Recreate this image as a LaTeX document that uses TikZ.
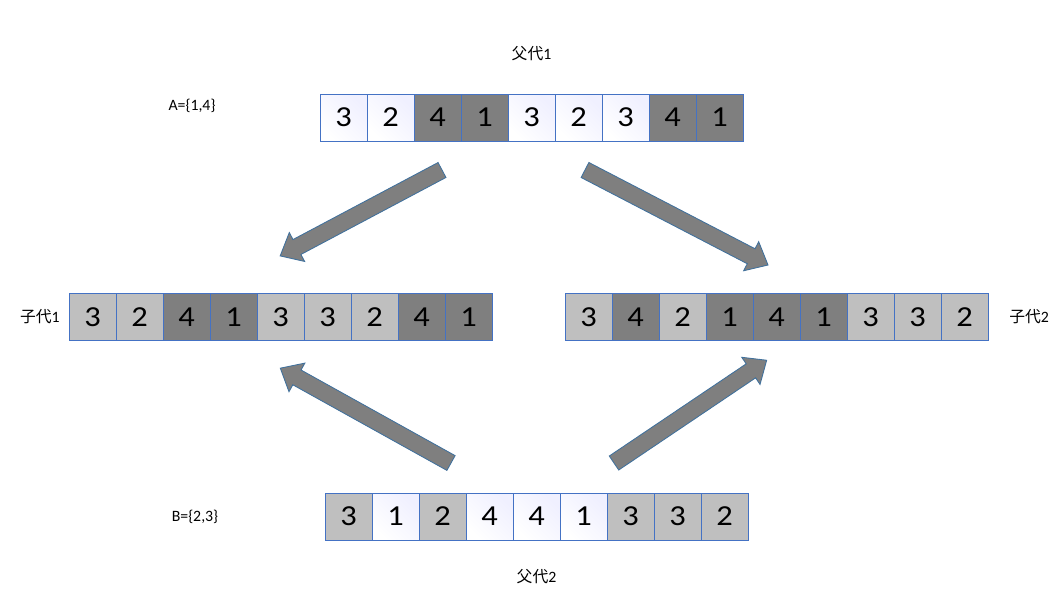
\documentclass[tikz,border=0pt]{standalone}
\usepackage{fontspec}
\setmainfont{Carlito}
\newfontfamily\cjk{Noto Sans CJK SC}
\newfontfamily\cellfont[FakeStretch=1.12]{Carlito}
\usetikzlibrary{positioning, calc}

\definecolor{cellline}{HTML}{4472C4}
\definecolor{lightcell}{HTML}{BFBFBF}
\definecolor{darkcell}{HTML}{7F7F7F}
\definecolor{arrowline}{HTML}{41719C}

\begin{document}
\begin{tikzpicture}[
    x=0.02cm, y=-0.02cm,
    cell/.style={rectangle, draw=cellline, line width=0.5pt, minimum width=0.94cm,
                 minimum height=0.94cm, inner sep=0pt, outer sep=0pt,
                 font=\cellfont\fontsize{16.5}{16.5}\selectfont},
    wcell/.style={left color=blue!6!white, right color=white, shading angle=-45},
    lcell/.style={fill=lightcell},
    dcell/.style={fill=darkcell},
    lbl/.style={inner sep=0pt, font=\fontsize{9}{10}\selectfont},
    blockarr/.style={draw=arrowline, fill=darkcell, line width=0.5pt, to path={
        let \p1=($(\tikztotarget)-(\tikztostart)$), \n1={atan2(\y1,\x1)},
            \n2={veclen(\x1,\y1)} in
        [shift={(\tikztostart)}, rotate=\n1]
        (0pt,-4.8pt) -- ({\n2-10.8pt},-4.8pt) -- ({\n2-10.8pt},-9.3pt) -- (\n2,0pt)
        -- ({\n2-10.8pt},9.3pt) -- ({\n2-10.8pt},4.8pt) -- (0pt,4.8pt) -- cycle}}
  ]
  \useasboundingbox (0,0) rectangle (1053,605);

  % parent 1
  \foreach \v/\s [count=\i from 0] in {3/wcell,2/wcell,4/dcell,1/dcell,3/wcell,2/wcell,3/wcell,4/dcell,1/dcell}
    \node[cell, \s] (pa\i) at (343.5+47*\i,117.5) {\v};
  % child 1
  \foreach \v/\s [count=\i from 0] in {3/lcell,2/lcell,4/dcell,1/dcell,3/lcell,3/lcell,2/lcell,4/dcell,1/dcell}
    \node[cell, \s] (ca\i) at (92.5+47*\i,317) {\v};
  % child 2
  \foreach \v/\s [count=\i from 0] in {3/lcell,4/dcell,2/lcell,1/dcell,4/dcell,1/dcell,3/lcell,3/lcell,2/lcell}
    \node[cell, \s] (cb\i) at (588.5+47*\i,317) {\v};
  % parent 2
  \foreach \v/\s [count=\i from 0] in {3/lcell,1/wcell,2/lcell,4/wcell,4/wcell,1/wcell,3/lcell,3/lcell,2/lcell}
    \node[cell, \s] (pb\i) at (348.5+47*\i,516.5) {\v};

  % labels
  \node[lbl, above=0.66cm of pa4] (pa-lbl) {{\cjk 父代}1};
  \node[lbl, below=0.58cm of pb4] (pb-lbl) {{\cjk 父代}2};
  \node[lbl, left=0.18cm of ca0]  (ca-lbl) {{\cjk 子代}1};
  \node[lbl, right=0.42cm of cb8] (cb-lbl) {{\cjk 子代}2};
  \node[lbl] (seta) at (192,106) {A=\{1,4\}};
  \node[lbl] (setb) at (195,517) {B=\{2,3\}};

  % block arrows
  \coordinate (a1s) at (442,170);
  \coordinate (a1e) at (280,256);
  \coordinate (a2s) at (585,170);
  \coordinate (a2e) at (768,265);
  \coordinate (a3s) at (451,463);
  \coordinate (a3e) at (280,368);
  \coordinate (a4s) at (614,463);
  \coordinate (a4e) at (767,360);
  \draw[blockarr] (a1s) to (a1e);
  \draw[blockarr] (a2s) to (a2e);
  \draw[blockarr] (a3s) to (a3e);
  \draw[blockarr] (a4s) to (a4e);
\end{tikzpicture}
\end{document}
